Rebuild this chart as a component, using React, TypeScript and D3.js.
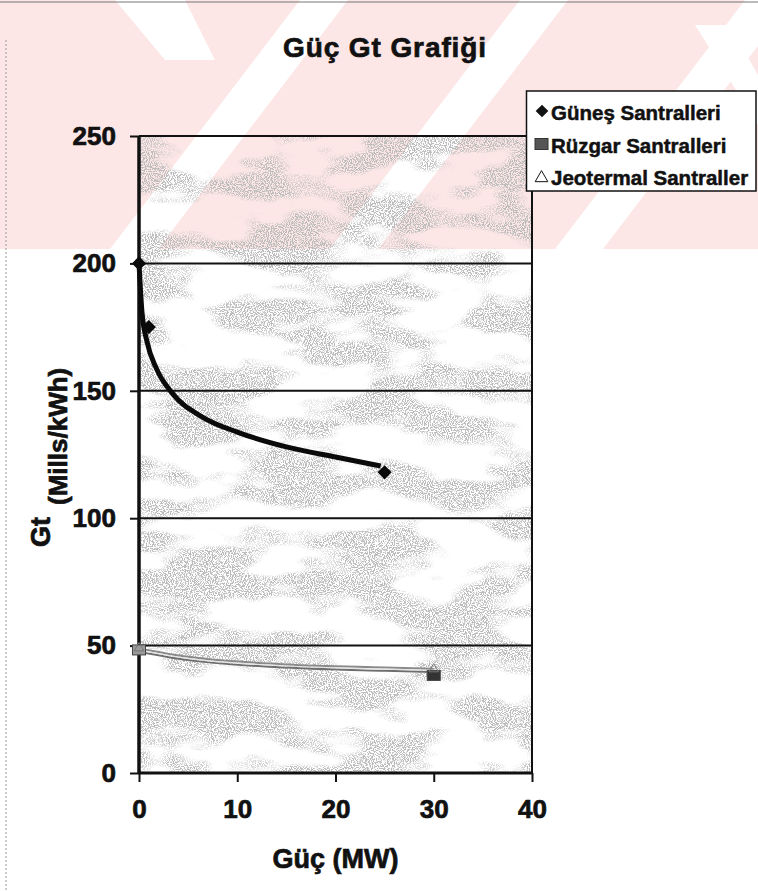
import { useRef, useEffect } from 'react';
import * as d3 from 'd3';

const W = 758;
const H = 891;
const PLOT = { left: 139, right: 532, top: 136, bottom: 773 };
const FONT = '"Liberation Sans", Arial, Helvetica, sans-serif';

const xTicks = [0, 10, 20, 30, 40];
const yTicks = [0, 50, 100, 150, 200, 250];

// Güneş Santralleri (markers + fitted curve)
const gunesX = [0, 1, 25];
const gunesY = [200, 175, 118];
const gunesTrendX = [0, 0.3, 0.8, 1.8, 3.4, 6.5, 10, 15, 20, 24.6];
const gunesTrendY = [200, 181, 169.5, 158.5, 149, 139.6, 133.8, 128, 124, 120.5];

// Rüzgar Santralleri
const ruzgarX = [0, 30];
const ruzgarY = [48.3, 38.3];
const ruzgarTrendX = [0, 5, 15, 25, 30];
const ruzgarTrendY = [47.6, 44.3, 41.4, 40.1, 39.6];

// Jeotermal Santraller
const jeoX = [0, 30];
const jeoY = [49, 40.8];
const jeoTrendX = [0, 5, 15, 25, 30];
const jeoTrendY = [48.9, 45.6, 42.6, 41.4, 40.9];

const legendLabels = ['Güneş Santralleri', 'Rüzgar Santralleri', 'Jeotermal Santraller'];

export default function App() {
  const svgRef = useRef<SVGSVGElement | null>(null);

  useEffect(() => {
    const svg = d3.select(svgRef.current);
    svg.selectAll('*').remove();

    const x = d3.scaleLinear().domain([0, 40]).range([PLOT.left, PLOT.right]);
    const y = d3.scaleLinear().domain([0, 250]).range([PLOT.bottom, PLOT.top]);

    const defs = svg.append('defs');
    // scanned-paper blotches inside the plot
    const f = defs.append('filter').attr('id', 'blotch')
      .attr('x', 0).attr('y', 0).attr('width', 1).attr('height', 1);
    f.append('feTurbulence').attr('type', 'fractalNoise')
      .attr('baseFrequency', '0.012 0.03').attr('numOctaves', 3).attr('seed', 11).attr('result', 'n');
    f.append('feColorMatrix').attr('in', 'n').attr('type', 'matrix')
      .attr('values', '0 0 0 0 0.5  0 0 0 0 0.5  0 0 0 0 0.5  7 0 0 0 -3.0').attr('result', 'b');
    f.append('feTurbulence').attr('type', 'fractalNoise')
      .attr('baseFrequency', '0.95').attr('numOctaves', 1).attr('seed', 3).attr('result', 'g');
    f.append('feColorMatrix').attr('in', 'g').attr('type', 'matrix')
      .attr('values', '0 0 0 0 0  0 0 0 0 0  0 0 0 0 0  10 0 0 0 -4.6').attr('result', 'gm');
    f.append('feComposite').attr('in', 'b').attr('in2', 'gm').attr('operator', 'in');

    svg.append('rect').attr('width', W).attr('height', H).attr('fill', '#fff');

    // pale watermark at the top of the page
    const wm = svg.append('g');
    wm.append('rect').attr('x', 0).attr('y', 0).attr('width', W).attr('height', 249).attr('fill', '#fce6e6');
    [110, 330, 555].forEach(bx => {
      wm.append('path')
        .attr('d', `M${bx},249 L${bx + 48},249 L${bx + 238},0 L${bx + 190},0 Z`)
        .attr('fill', '#fff');
    });
    wm.append('path').attr('d', 'M115,0 L185,0 L215,60 L165,60 Z').attr('fill', '#fff');
    wm.append('path').attr('d', 'M695,25 L730,25 L758,75 L758,125 Z').attr('fill', '#fff');

    // scan edges
    svg.append('line').attr('x1', 0).attr('x2', W).attr('y1', 2).attr('y2', 2)
      .attr('stroke', '#777').attr('stroke-width', 1);
    svg.append('line').attr('x1', 6).attr('x2', 6).attr('y1', 40).attr('y2', H)
      .attr('stroke', '#999').attr('stroke-width', 1).attr('stroke-dasharray', '2,2');

    // plot background
    svg.append('rect')
      .attr('x', PLOT.left).attr('y', PLOT.top)
      .attr('width', PLOT.right - PLOT.left).attr('height', PLOT.bottom - PLOT.top)
      .attr('fill', '#7a7a7a').attr('filter', 'url(#blotch)');

    // gridlines
    yTicks.filter(v => v > 0).forEach(v => {
      svg.append('line').attr('x1', PLOT.left).attr('x2', PLOT.right)
        .attr('y1', y(v)).attr('y2', y(v))
        .attr('stroke', '#111').attr('stroke-width', 2);
    });
    svg.append('line').attr('x1', PLOT.right).attr('x2', PLOT.right)
      .attr('y1', PLOT.top).attr('y2', PLOT.bottom).attr('stroke', '#111').attr('stroke-width', 2);

    // axes
    const yAxis = svg.append('g').attr('transform', `translate(${PLOT.left},0)`)
      .call(d3.axisLeft(y).tickValues(yTicks).tickSize(9).tickPadding(14));
    const xAxis = svg.append('g').attr('transform', `translate(0,${PLOT.bottom})`)
      .call(d3.axisBottom(x).tickValues(xTicks).tickSize(9).tickPadding(18));
    [yAxis, xAxis].forEach(a => {
      a.select('.domain').remove();
      a.selectAll('line').attr('stroke', '#111').attr('stroke-width', 2);
      a.selectAll('text').attr('font-family', FONT).attr('font-weight', 'bold')
        .attr('font-size', 26).attr('fill', '#111')
        .attr('stroke', '#111').attr('stroke-width', 0.7);
    });
    xAxis.selectAll('text').attr('dy', '0.71em');
    svg.append('line').attr('x1', PLOT.left).attr('x2', PLOT.left)
      .attr('y1', PLOT.top).attr('y2', PLOT.bottom + 1).attr('stroke', '#111').attr('stroke-width', 3.5);
    svg.append('line').attr('x1', PLOT.left).attr('x2', PLOT.right + 1)
      .attr('y1', PLOT.bottom).attr('y2', PLOT.bottom).attr('stroke', '#111').attr('stroke-width', 3);

    // Rüzgar / Jeotermal curves
    const lineOf = (xs: number[], ys: number[]) =>
      d3.line<number>().x(d => x(xs[d])).y(d => y(ys[d])).curve(d3.curveMonotoneX)(xs.map((_, i) => i));
    svg.append('path').attr('d', lineOf(ruzgarTrendX, ruzgarTrendY))
      .attr('fill', 'none').attr('stroke', '#6e6e6e').attr('stroke-width', 2);
    svg.append('path').attr('d', lineOf(jeoTrendX, jeoTrendY))
      .attr('fill', 'none').attr('stroke', '#8a8a8a').attr('stroke-width', 2);
    svg.append('path').attr('d', lineOf(jeoTrendX, jeoTrendY.map((v, i) => (v + ruzgarTrendY[i]) / 2)))
      .attr('fill', 'none').attr('stroke', '#e4e4e4').attr('stroke-width', 1.2);

    ruzgarX.forEach((xv, i) => {
      svg.append('rect').attr('x', x(xv) - 6.5).attr('y', y(ruzgarY[i]) - 5)
        .attr('width', 13).attr('height', 10)
        .attr('fill', i === 0 ? '#9a9a9a' : '#333').attr('stroke', '#444').attr('stroke-width', 1);
    });
    jeoX.forEach((xv, i) => {
      svg.append('path')
        .attr('transform', `translate(${x(xv)},${y(jeoY[i])})`)
        .attr('d', d3.symbol(d3.symbolTriangle, 40)())
        .attr('fill', 'none').attr('stroke', '#777').attr('stroke-width', 1);
    });

    // Güneş curve and markers
    svg.append('path').attr('d', lineOf(gunesTrendX, gunesTrendY))
      .attr('fill', 'none').attr('stroke', '#0a0a0a').attr('stroke-width', 5)
      .attr('stroke-linejoin', 'round');
    gunesX.forEach((xv, i) => {
      svg.append('path')
        .attr('transform', `translate(${x(xv)},${y(gunesY[i])}) rotate(45)`)
        .attr('d', d3.symbol(d3.symbolSquare, 100)())
        .attr('fill', '#0a0a0a');
    });

    const boldText = (sel: d3.Selection<SVGTextElement, unknown, null, undefined>, size: number) =>
      sel.attr('font-family', FONT).attr('font-weight', 'bold').attr('font-size', size)
        .attr('fill', '#111').attr('stroke', '#111').attr('stroke-width', 0.7);

    // title
    boldText(svg.append('text').attr('x', 385).attr('y', 57).attr('text-anchor', 'middle')
      .attr('letter-spacing', 0.9), 28).text('Güç Gt Grafiği');

    // axis titles
    boldText(svg.append('text').attr('x', x(20)).attr('y', 868).attr('text-anchor', 'middle'), 27)
      .text('Güç (MW)');
    boldText(svg.append('text').attr('transform', 'translate(50,547) rotate(-90)'), 27).text('Gt');
    boldText(svg.append('text').attr('transform', 'translate(67,505) rotate(-90)'), 26).text('(Mills/kWh)');

    // legend
    const lg = svg.append('g');
    lg.append('rect').attr('x', 526.5).attr('y', 91).attr('width', 229.5).attr('height', 100)
      .attr('fill', '#fff').attr('stroke', '#111').attr('stroke-width', 1.5);
    legendLabels.forEach((label, i) => {
      const cy = 111 + i * 32.5;
      if (i === 0) {
        lg.append('path').attr('transform', `translate(542,${cy}) rotate(45)`)
          .attr('d', d3.symbol(d3.symbolSquare, 80)()).attr('fill', '#111');
      } else if (i === 1) {
        lg.append('rect').attr('x', 535).attr('y', cy - 5).attr('width', 13).attr('height', 11)
          .attr('fill', '#555').attr('stroke', '#333');
      } else {
        lg.append('path').attr('transform', `translate(541.5,${cy + 2})`)
          .attr('d', d3.symbol(d3.symbolTriangle, 70)())
          .attr('fill', '#fff').attr('stroke', '#111').attr('stroke-width', 1);
      }
      boldText(lg.append('text').attr('x', 551).attr('y', cy + 9), 20.5)
        .attr('stroke-width', 0.5).text(label);
    });
  }, []);

  return (
    <div style={{ position: 'absolute', left: 0, top: 0 }}>
      <svg ref={svgRef} width={W} height={H} style={{ display: 'block' }} />
    </div>
  );
}
